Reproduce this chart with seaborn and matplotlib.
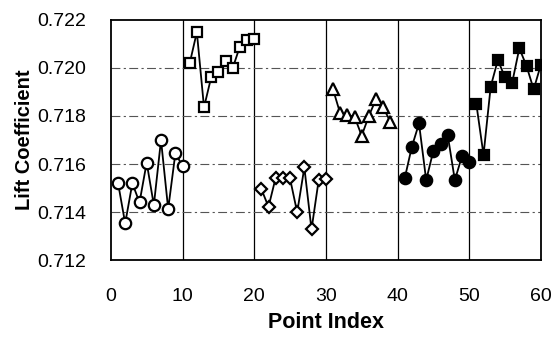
import numpy as np
import pandas as pd
import matplotlib
matplotlib.use("Agg")
import matplotlib.pyplot as plt
import seaborn as sns

# Lift coefficient for each run block (point index -> value)
idx_open_circle = list(range(1, 11))
cl_open_circle = [0.71522, 0.71353, 0.71520, 0.71440, 0.71606, 0.71429, 0.71700, 0.71413, 0.71644, 0.71593]

idx_open_square = list(range(11, 21))
cl_open_square = [0.72019, 0.72149, 0.71836, 0.71961, 0.71982, 0.72029, 0.71999, 0.72089, 0.72117, 0.72121]

idx_diamond = list(range(21, 31))
cl_diamond = [0.71496, 0.71422, 0.71543, 0.71540, 0.71540, 0.71399, 0.71586, 0.71328, 0.71533, 0.71538]

idx_triangle = list(range(31, 40))
cl_triangle = [0.71911, 0.71811, 0.71804, 0.71797, 0.71718, 0.71800, 0.71870, 0.71836, 0.71776]

idx_filled_circle = list(range(41, 51))
cl_filled_circle = [0.71540, 0.71672, 0.71769, 0.71533, 0.71655, 0.71683, 0.71721, 0.71533, 0.71633, 0.71610]

idx_filled_square = list(range(51, 61))
cl_filled_square = [0.71850, 0.71638, 0.71922, 0.72033, 0.71961, 0.71939, 0.72082, 0.72008, 0.71911, 0.72013]

x_ticks = [0, 10, 20, 30, 40, 50, 60]
y_ticks = [0.712, 0.714, 0.716, 0.718, 0.720, 0.722]

sns.set_style("white")
plt.rcParams["font.family"] = ["Liberation Sans", "DejaVu Sans"]
plt.rcParams["text.color"] = "black"
plt.rcParams["axes.labelcolor"] = "black"

fig = plt.figure(figsize=(5.57, 3.37), dpi=100)
ax = fig.add_axes([0.199, 0.228, 0.772, 0.713])

# grid: solid verticals, broken horizontals
for xv in x_ticks[1:-1]:
    ax.axvline(xv, color="black", lw=0.9, zorder=1)
for yv in y_ticks[1:-1]:
    ax.axhline(yv, color="#555555", lw=0.8, ls=(0, (8, 3, 2, 3)), zorder=1)

groups = [
    (idx_open_circle, cl_open_circle, "o", "white", 8.2),
    (idx_open_square, cl_open_square, "s", "white", 7.8),
    (idx_diamond, cl_diamond, "D", "white", 6.6),
    (idx_triangle, cl_triangle, "^", "white", 8.6),
    (idx_filled_circle, cl_filled_circle, "o", "black", 8.2),
    (idx_filled_square, cl_filled_square, "s", "black", 7.8),
]
for xs, ys, mk, fc, ms in groups:
    df = pd.DataFrame({"Point Index": xs, "Lift Coefficient": ys})
    sns.lineplot(data=df, x="Point Index", y="Lift Coefficient", ax=ax,
                 color="black", lw=1.3, marker=mk, markersize=ms,
                 markerfacecolor=fc, markeredgecolor="black",
                 markeredgewidth=1.6, zorder=3)

ax.set_xlim(0, 60)
ax.set_ylim(0.712, 0.722)
ax.set_xticks(x_ticks)
ax.set_yticks(y_ticks)
ax.set_xticklabels([str(v) for v in x_ticks])
ax.set_yticklabels([f"{v:.3f}" for v in y_ticks])
ax.tick_params(axis="both", length=0, labelsize=14, colors="black")
ax.tick_params(axis="x", pad=20)
ax.tick_params(axis="y", pad=18)
ax.set_xlabel("Point Index", fontsize=15.5, fontweight="bold", labelpad=5)
ax.set_ylabel("Lift Coefficient", fontsize=14.5, fontweight="bold", labelpad=2)

for sp in ax.spines.values():
    sp.set_visible(True)
    sp.set_color("black")
    sp.set_linewidth(1.3)

fig.savefig("out.png", dpi=100)
